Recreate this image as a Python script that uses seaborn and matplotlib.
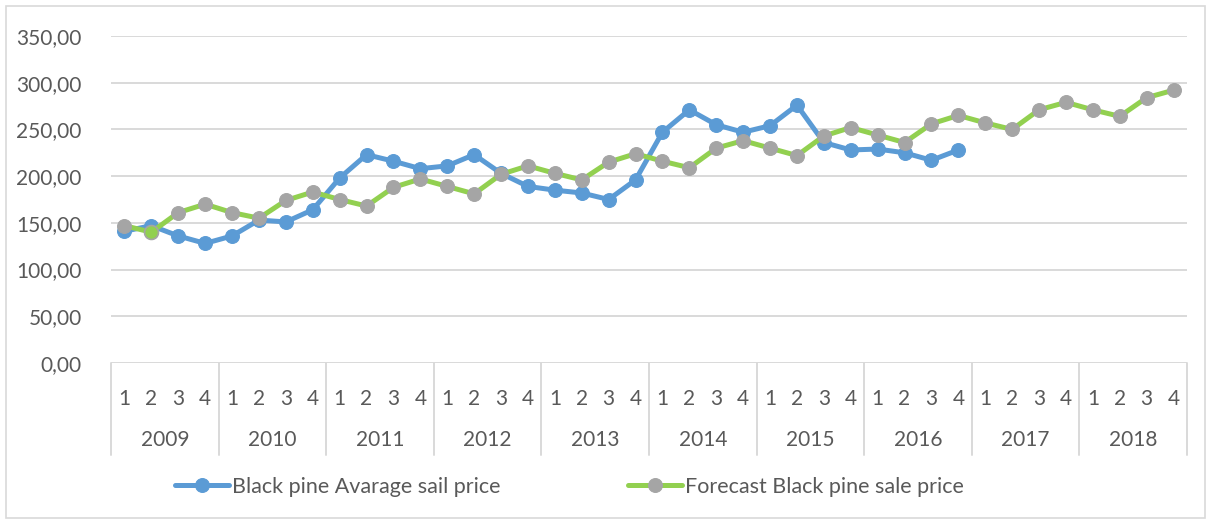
import numpy as np
import pandas as pd
import matplotlib
matplotlib.use("Agg")
import matplotlib.pyplot as plt
import matplotlib.transforms as mtransforms
from matplotlib.patches import Rectangle
import seaborn as sns

# quarterly prices
years = ["2009", "2010", "2011", "2012", "2013", "2014", "2015", "2016", "2017", "2018"]
quarters = ["1", "2", "3", "4"]

avg_price = [141, 147, 136, 128, 136, 153, 151, 164,
             198, 223, 216, 208, 211, 223, 203, 189,
             185, 182, 175, 196, 247, 271, 255, 247,
             254, 276, 236, 228, 229, 225, 217, 228]

forecast_price = [147, 140, 161, 170, 161, 155, 174, 183,
                  175, 168, 188, 197, 189, 181, 202, 211,
                  203, 196, 215, 224, 216, 209, 230, 238,
                  230, 222, 243, 252, 244, 236, 256, 265,
                  257, 250, 271, 279, 271, 264, 284, 292]

BLUE = "#5B9BD5"
GREEN = "#92D050"
GRAY = "#A5A5A5"
GRID = "#D9D9D9"
TXT = "#595959"

sns.set_theme(style="white")
plt.rcParams["font.family"] = ["Lato", "DejaVu Sans"]

df_avg = pd.DataFrame({"idx": np.arange(len(avg_price)), "price": avg_price})
df_fc = pd.DataFrame({"idx": np.arange(len(forecast_price)), "price": forecast_price})

fig = plt.figure(figsize=(12.11, 5.24), dpi=100)
ax = fig.add_axes([111 / 1211, 1 - 363 / 524, (1187 - 111) / 1211, (363 - 36) / 524])

sns.lineplot(data=df_avg, x="idx", y="price", ax=ax, color=BLUE, linewidth=3.6,
             marker="o", markersize=10, markerfacecolor=BLUE, markeredgecolor=BLUE,
             label="Black pine Avarage sail price", zorder=3)
sns.lineplot(data=df_fc, x="idx", y="price", ax=ax, color=GREEN, linewidth=3.6,
             marker="o", markersize=10, markerfacecolor=GRAY, markeredgecolor=GRAY,
             label="Forecast Black pine sale price", zorder=4)
# one odd point in the source has a green fill
ax.plot([df_fc["idx"][1]], [df_fc["price"][1]], "o", markersize=10,
        markerfacecolor=GREEN, markeredgecolor=GRAY, markeredgewidth=1.2, zorder=5)

ax.set_xlim(-0.5, len(forecast_price) - 0.5)
ax.set_ylim(0, 350)
ax.set_yticks(np.arange(0, 351, 50))
ax.set_yticklabels([f"{v:.2f}".replace(".", ",") for v in np.arange(0, 351, 50)],
                   fontsize=15, color=TXT)
ax.tick_params(axis="y", length=0, pad=21)
ax.grid(axis="y", color=GRID, linewidth=1.4)
ax.grid(axis="x", visible=False)
for s in ax.spines.values():
    s.set_visible(False)
ax.set_xlabel("")
ax.set_ylabel("")

# quarter labels
ax.set_xticks(np.arange(len(forecast_price)))
ax.set_xticklabels(quarters * len(years), fontsize=15, color=TXT)
ax.tick_params(axis="x", length=0, pad=19)

# year labels and separators
trans = mtransforms.blended_transform_factory(ax.transData, ax.transAxes)
for i, yr in enumerate(years):
    ax.text(i * 4 + 1.5, -0.235, yr, transform=trans, ha="center", va="center",
            fontsize=15, color=TXT)
for k in range(len(years) + 1):
    ax.plot([k * 4 - 0.5, k * 4 - 0.5], [0, -0.281], transform=trans, color=GRID,
            linewidth=1.4, clip_on=False)

ax.get_legend().remove()
handles, labels = ax.get_legend_handles_labels()
leg = fig.legend(handles, labels, loc="center left", bbox_to_anchor=(156 / 1211, 1 - 487 / 524),
                 ncol=2, frameon=False, fontsize=15.5, handlelength=2.5, handletextpad=0.15,
                 columnspacing=5.9, labelcolor=TXT)

fig.patches.append(Rectangle((6 / 1211, 6 / 524), 1199 / 1211, 512 / 524,
                             transform=fig.transFigure, fill=False, edgecolor=GRID,
                             linewidth=1.2))

fig.savefig("out.png", dpi=100, facecolor="white")
